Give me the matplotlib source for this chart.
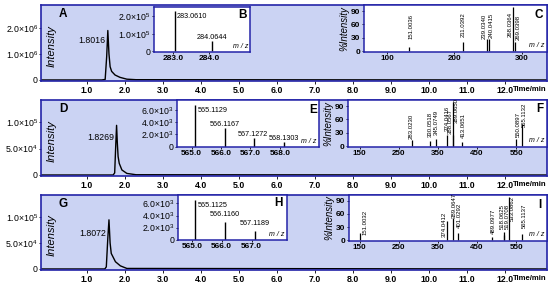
import matplotlib
matplotlib.use("Agg")
import matplotlib.pyplot as plt

plt.rcParams['font.family'] = ['Liberation Sans', 'DejaVu Sans']
plt.rcParams['mathtext.default'] = 'regular'

W, H = 550, 288
BLUE = '#2424a8'
BG = '#cbd3f3'

# chromatograms: time (min) and intensity
a_time = [-0.2, 1.40, 1.49, 1.53, 1.56, 1.59, 1.62, 1.66, 1.75, 1.88, 2.06, 2.30, 13.1]
a_int = [0, 0, 0.02e6, 0.9e6, 1.9e6, 1.0e6, 0.51e6, 0.33e6, 0.19e6, 0.10e6, 0.03e6, 0.01e6, 0]
d_time = [-0.2, 1.70, 1.74, 1.77, 1.79, 1.81, 1.83, 1.86, 1.93, 2.06, 2.30, 13.1]
d_int = [0, 0, 0.04e5, 0.6e5, 0.94e5, 0.6e5, 0.35e5, 0.22e5, 0.095e5, 0.03e5, 0.005e5, 0]
g_time = [-0.2, 1.48, 1.52, 1.56, 1.59, 1.62, 1.65, 1.76, 1.89, 2.06, 13.1]
g_int = [0, 0, 0.04e5, 0.6e5, 0.95e5, 0.5e5, 0.30e5, 0.14e5, 0.06e5, 0.01e5, 0]
rt_labels = ['1.8016', '1.8269', '1.8072']

# full-scan spectra (B, E, H)
b_mz = [283.0610, 284.0644]
b_int = [2.26e5, 0.59e5]
e_mz = [565.1129, 566.1167, 567.1272, 568.1303]
e_int = [6.8e3, 3.0e3, 1.5e3, 0.7e3]
h_mz = [565.1125, 566.1160, 567.1189]
h_int = [6.6e3, 3.0e3, 1.5e3]

# MS/MS spectra (C, F, I), % intensity
c_mz = [133, 212, 248, 251, 286, 289]
c_int = [10, 20, 27, 27, 100, 20]
c_lab = ['151.0036', '211.0392', '239.0340', '240.0415', '268.0364', '269.0398']
f_mz = [283.0230, 330.0518, 345.0749, 374.0416, 388.0567, 389.0650, 413.0651, 550.0897, 565.1132]
f_int = [13, 12, 16, 26, 26, 100, 10, 17, 49]
i_mz = [151.0032, 374.0412, 389.0647, 401.0292, 489.0977, 518.0625, 519.0708, 533.0862, 565.1137]
i_int = [17, 45, 50, 17, 8, 19, 12, 100, 13]

time_ticks = list(range(1, 13))

fig = plt.figure(figsize=(5.5, 2.88), dpi=100)


def box(l, t, r, b):
    return fig.add_axes([l / W, 1 - b / H, (r - l) / W, (b - t) / H])


def frame(ax, lw):
    for s in ax.spines.values():
        s.set_color(BLUE)
        s.set_linewidth(lw)


def chrom(rect, t, y, ylim, yt, ytl, rt, letter, lab_frac):
    ax = box(*rect)
    ax.set_facecolor(BG)
    frame(ax, 1.2)
    ax.plot(t, y, color='black', lw=1.0)
    ax.set_xlim(-0.196, 13.10)
    ax.set_ylim(*ylim)
    ax.set_xticks(time_ticks)
    ax.set_xticklabels([f'{v:.1f}' for v in time_ticks], fontsize=6.3, fontweight='bold')
    ax.set_yticks(yt)
    ax.set_yticklabels(ytl, fontsize=6.3)
    ax.tick_params(axis='x', length=2, width=0.6, pad=1.5)
    ax.tick_params(axis='y', length=1.5, width=0.6, pad=0.8)
    k = y.index(max(y))
    ax.annotate(rt, xy=(t[k], max(y) * lab_frac), xytext=(-2, 0), textcoords='offset points',
                ha='right', va='center', fontsize=6.3)
    ax.text(0.0217, 0.46, 'Intensity', transform=ax.transAxes, rotation=90,
            ha='center', va='center', fontsize=8, fontstyle='italic')
    ax.text(0.0435, 0.88, letter, transform=ax.transAxes, ha='center', va='center',
            fontsize=8.5, fontweight='bold')
    ax.text(1.0, -0.06, 'Time/min', transform=ax.transAxes, ha='right', va='top',
            fontsize=5.6, fontweight='bold')
    return ax


def full_scan(rect, mz, inten, xlim, xt, ylim, yt, ytl, lab_xy, letter, let_xy):
    ax = box(*rect)
    ax.set_facecolor('white')
    frame(ax, 1.1)
    ax.vlines(mz, 0, inten, color='black', lw=1.0)
    ax.set_xlim(*xlim)
    ax.set_ylim(*ylim)
    ax.set_xticks(xt)
    ax.set_xticklabels([f'{v:.1f}' for v in xt], fontsize=6.0, fontweight='bold')
    ax.set_yticks(yt)
    ax.set_yticklabels(ytl, fontsize=6.3)
    ax.tick_params(length=1.5, width=0.6, pad=1.0)
    for m, (lx, ly, ha) in zip(mz, lab_xy):
        ax.text(m + lx, ly, f'{m:.4f}', ha=ha, va='center', fontsize=5.2)
    ax.text(0.98, 0.05, 'm / z', transform=ax.transAxes, ha='right', va='bottom',
            fontsize=5, fontstyle='italic')
    ax.text(let_xy[0], let_xy[1], letter, transform=ax.transAxes, ha='center', va='center',
            fontsize=8.5, fontweight='bold')
    return ax


def msms(rect, mz, inten, labels, xlim, xt, lab_y, dx, letter, let_xy):
    ax = box(*rect)
    ax.set_facecolor('white')
    frame(ax, 1.1)
    ax.vlines(mz, 0, inten, color='black', lw=0.9)
    ax.set_xlim(*xlim)
    ax.set_ylim(-2, 103.6)
    ax.set_xticks(xt)
    ax.set_xticklabels([str(v) for v in xt], fontsize=5.8, fontweight='bold')
    ax.set_yticks([0, 30, 60, 90])
    ax.set_yticklabels(['0', '30', '60', '90'], fontsize=6.0, fontweight='bold')
    ax.tick_params(length=1.5, width=0.6, pad=1.0)
    ax.set_ylabel('%Intensity', fontsize=7, fontstyle='italic', labelpad=1)
    for m, lab, ly, d in zip(mz, labels, lab_y, dx):
        ax.annotate(lab, xy=(m, ly), xytext=(d * 0.72, 0), textcoords='offset points',
                    rotation=90, ha='center', va='bottom', fontsize=4.3)
    ax.text(0.985, 0.06, 'm / z', transform=ax.transAxes, ha='right', va='bottom',
            fontsize=5, fontstyle='italic')
    ax.text(let_xy[0], let_xy[1], letter, transform=ax.transAxes, ha='center', va='center',
            fontsize=8.5, fontweight='bold')
    return ax


# row 1
chrom((41, 5, 547, 81), a_time, a_int, (-0.04e6, 2.88e6), [0, 1e6, 2e6],
      ['0', r'1.0$\times$10$^6$', r'2.0$\times$10$^6$'], rt_labels[0], 'A', 0.8)
full_scan((154, 7, 250, 52), b_mz, b_int, (282.48, 285.11), [283.0, 284.0],
          (-0.03e5, 2.5e5), [0, 1e5, 2e5], ['0', r'1.0$\times$10$^5$', r'2.0$\times$10$^5$'],
          [(0.04, 1.94e5, 'left'), (0.0, 0.8e5, 'center')], 'B', (0.92, 0.82))
msms((364, 5, 547, 52), c_mz, c_int, c_lab, (66, 337), [100, 200, 300],
     [27, 32, 28, 30, 31, 25], [2.3, 0.7, -2.7, 2, -2.3, 4], 'C', (0.955, 0.79))

# row 2
chrom((41, 100, 547, 176), d_time, d_int, (-0.019e5, 1.42e5), [0, 5e4, 1e5],
      ['0', r'5.0$\times$10$^4$', r'1.0$\times$10$^5$'], rt_labels[1], 'D', 0.75)
full_scan((177, 100, 319, 147), e_mz, e_int, (564.50, 569.33), [565.0, 566.0, 567.0, 568.0],
          (-0.05e3, 7.65e3), [0, 2e3, 4e3, 6e3],
          ['0', r'2.0$\times$10$^3$', r'4.0$\times$10$^3$', r'6.0$\times$10$^3$'],
          [(0.08, 5.85e3, 'left'), (0.0, 3.56e3, 'center'), (-0.05, 2.03e3, 'center'),
           (0.0, 1.38e3, 'center')], 'E', (0.96, 0.79))
msms((348, 100, 547, 147), f_mz, f_int, [f'{v:.4f}' for v in f_mz], (120.6, 629),
     [150, 250, 350, 450, 550], [17, 21, 26, 33, 27, 52, 19, 21, 43],
     [-0.7, 0, 0.7, 0.0, -2.5, 3.2, 0.7, 2.3, 2.3], 'F', (0.965, 0.81))

# row 3
chrom((41, 195, 547, 270), g_time, g_int, (-0.02e5, 1.43e5), [0, 5e4, 1e5],
      ['0', r'5.0$\times$10$^4$', r'1.0$\times$10$^5$'], rt_labels[2], 'G', 0.73)
full_scan((178, 195, 287, 240), h_mz, h_int, (564.54, 568.18), [565.0, 566.0, 567.0],
          (-0.05e3, 7.4e3), [0, 2e3, 4e3, 6e3],
          ['0', r'2.0$\times$10$^3$', r'4.0$\times$10$^3$', r'6.0$\times$10$^3$'],
          [(0.08, 5.7e3, 'left'), (0.0, 4.1e3, 'center'), (0.0, 2.6e3, 'center')],
          'H', (0.917, 0.82))
msms((349, 195, 547, 241), i_mz, i_int, [f'{v:.4f}' for v in i_mz], (123, 629),
     [150, 250, 350, 450, 550], [12, 8, 51, 28, 13, 25, 25, 43, 28],
     [5, -3, 1, 2, 1, -1.5, 3, 3, 2], 'I', (0.965, 0.78))

fig.savefig('out.png', dpi=100)
